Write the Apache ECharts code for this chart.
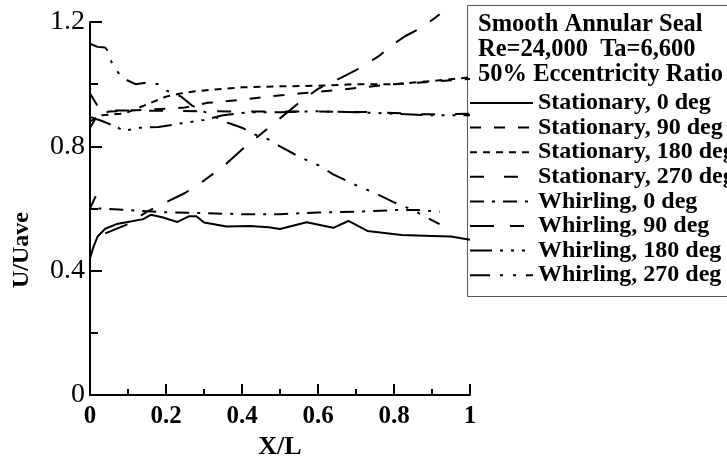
<!DOCTYPE html>
<html><head><meta charset="utf-8">
<script src="https://cdn.jsdelivr.net/npm/echarts@6/dist/echarts.min.js"></script>
<style>html,body{margin:0;padding:0;background:#fff}#c{width:727px;height:465px}</style>
</head><body><div id="c"></div>
<script>
const seriesNames = ["Stationary, 0 deg","Stationary, 90 deg","Stationary, 180 deg","Stationary, 270 deg","Whirling, 0 deg","Whirling, 90 deg","Whirling, 180 deg","Whirling, 270 deg"];
const headerLines = ["Smooth Annular Seal","Re=24,000  Ta=6,600","50% Eccentricity Ratio"];
const xTicks = [0,0.2,0.4,0.6,0.8,1];
const yTicks = [0,0.4,0.8,1.2];
const xTitle = "X/L";
const yTitle = "U/Uave";

const stat0 = [[0,0.44],[0.01,0.48],[0.02,0.51],[0.04,0.535],[0.07,0.55],[0.1,0.557],[0.14,0.566],[0.16,0.58],[0.19,0.572],[0.23,0.557],[0.26,0.575],[0.28,0.575],[0.3,0.555],[0.36,0.542],[0.42,0.544],[0.47,0.54],[0.5,0.534],[0.57,0.556],[0.64,0.538],[0.68,0.56],[0.73,0.528],[0.82,0.515],[0.9,0.512],[0.95,0.51],[1.0,0.5]];
const stat90 = [[0,0.86],[0.02,0.9],[0.05,0.912],[0.15,0.918],[0.25,0.925],[0.31,0.94],[0.4,0.95],[0.47,0.96],[0.55,0.97],[0.64,0.98],[0.72,0.99],[0.8,1.0],[0.9,1.008],[1.0,1.017]];
const stat180 = [[0,0.88],[0.03,0.9],[0.08,0.905],[0.1,0.91],[0.13,0.925],[0.16,0.94],[0.2,0.96],[0.25,0.973],[0.3,0.98],[0.4,0.99],[0.5,0.993],[0.6,0.995],[0.7,1.0],[0.8,1.0],[0.9,1.01],[1.0,1.022]];
const stat270 = [[0,0.97],[0.01,0.95],[0.025,0.92],[0.05,0.915],[0.15,0.915],[0.3,0.913],[0.45,0.912],[0.6,0.912],[0.75,0.91],[0.88,0.903],[1.0,0.905]];
const whirl0 = [[0.015,0.64],[0,0.6],[0.03,0.6],[0.1,0.595],[0.2,0.588],[0.3,0.585],[0.4,0.582],[0.5,0.582],[0.6,0.587],[0.7,0.59],[0.8,0.595],[0.86,0.595],[0.92,0.59]];
const whirl90 = [[0.04,0.52],[0.1,0.55],[0.15,0.59],[0.2,0.62],[0.25,0.65],[0.3,0.69],[0.35,0.735],[0.4,0.79],[0.45,0.84],[0.5,0.89],[0.55,0.94],[0.6,0.985],[0.66,1.02],[0.7,1.045],[0.76,1.09],[0.8,1.13],[0.83,1.155],[0.87,1.18],[0.91,1.215],[0.92,1.225]];
const whirl180 = [[0,0.895],[0.035,0.88],[0.065,0.865],[0.09,0.85],[0.13,0.86],[0.18,0.862],[0.24,0.874],[0.3,0.885],[0.35,0.9],[0.42,0.91],[0.5,0.91],[0.6,0.913],[0.7,0.91],[0.8,0.905],[0.9,0.9],[1.0,0.9]];
const whirl270 = [[0,1.13],[0.02,1.12],[0.04,1.118],[0.045,1.11],[0.06,1.06],[0.085,1.02],[0.12,1.0],[0.15,1.005],[0.18,1.0],[0.2,0.98],[0.24,0.96],[0.27,0.93],[0.32,0.9],[0.36,0.877],[0.4,0.86],[0.43,0.84],[0.47,0.822],[0.5,0.8],[0.553,0.765],[0.6,0.74],[0.64,0.71],[0.7,0.675],[0.75,0.65],[0.8,0.62],[0.85,0.595],[0.88,0.575],[0.92,0.55]];

const seriesData = [stat0, stat90, stat180, stat270, whirl0, whirl90, whirl180, whirl270];
const dashes = ['solid',[11,13],[7,6],[14,20],[14,8,3,8],[24,16,14,16],[22,8,3,8,3,8,3,8],[20,10,3,10,3,10]];

const serif = "'Liberation Serif','Times New Roman',serif";
const chart = echarts.init(document.getElementById('c'), null, {renderer:'canvas'});
chart.setOption({
  animation:false,
  backgroundColor:'#fff',
  grid:{left:90,right:257,top:22,bottom:68,containLabel:false},
  title:{text:headerLines.join('\n'),left:478,top:12,padding:0,
    textStyle:{fontFamily:serif,fontWeight:'bold',fontSize:24.5,lineHeight:25,color:'#000'}},
  legend:{orient:'vertical',left:469,top:91,padding:0,itemWidth:63,itemHeight:14,itemGap:0.6,
    itemStyle:{color:'transparent',borderWidth:0,opacity:0},
    textStyle:{fontFamily:serif,fontWeight:'bold',fontSize:24,lineHeight:24,color:'#000'},
    data:seriesNames},
  graphic:[
    {type:'rect',left:467,top:5,z:1,shape:{width:300,height:291},style:{fill:'#fff',stroke:'#555',lineWidth:1}},
    {type:'text',x:22,y:250,rotation:Math.PI/2,z:5,
      style:{text:yTitle,fill:'#000',font:"bold 24px 'Liberation Serif', serif",textAlign:'center',textVerticalAlign:'middle'}}
  ],
  xAxis:{type:'value',min:0,max:1,interval:0.2,
    name:xTitle,nameLocation:'middle',nameGap:37,
    nameTextStyle:{fontFamily:serif,fontWeight:'bold',fontSize:26,color:'#000'},
    axisLine:{lineStyle:{color:'#000',width:2}},
    axisTick:{inside:true,length:11,lineStyle:{color:'#000',width:2}},
    minorTick:{show:true,splitNumber:2,length:6,lineStyle:{color:'#000',width:2}},
    splitLine:{show:false},
    axisLabel:{margin:9,fontFamily:serif,fontWeight:'bold',fontSize:25,color:'#000',
      formatter:v=>{const t=xTicks.find(k=>Math.abs(k-v)<1e-9);return t===undefined?'':String(t);}}},
  yAxis:{type:'value',min:0,max:1.2,interval:0.4,
    axisLine:{lineStyle:{color:'#000',width:2}},
    axisTick:{inside:true,length:12,lineStyle:{color:'#000',width:2}},
    minorTick:{show:true,splitNumber:2,length:8,lineStyle:{color:'#000',width:2}},
    splitLine:{show:false},
    axisLabel:{margin:5,fontFamily:serif,fontSize:28,color:'#000',
      formatter:v=>{const t=yTicks.find(k=>Math.abs(k-v)<1e-9);return t===undefined?'':String(t);}}},
  series:seriesNames.map((n,i)=>({
    name:n,type:'line',data:seriesData[i],symbol:'none',showSymbol:false,clip:false,z:2,
    lineStyle:{color:'#000',width:2,type:dashes[i]},itemStyle:{color:'#000'}
  }))
});
</script></body></html>
